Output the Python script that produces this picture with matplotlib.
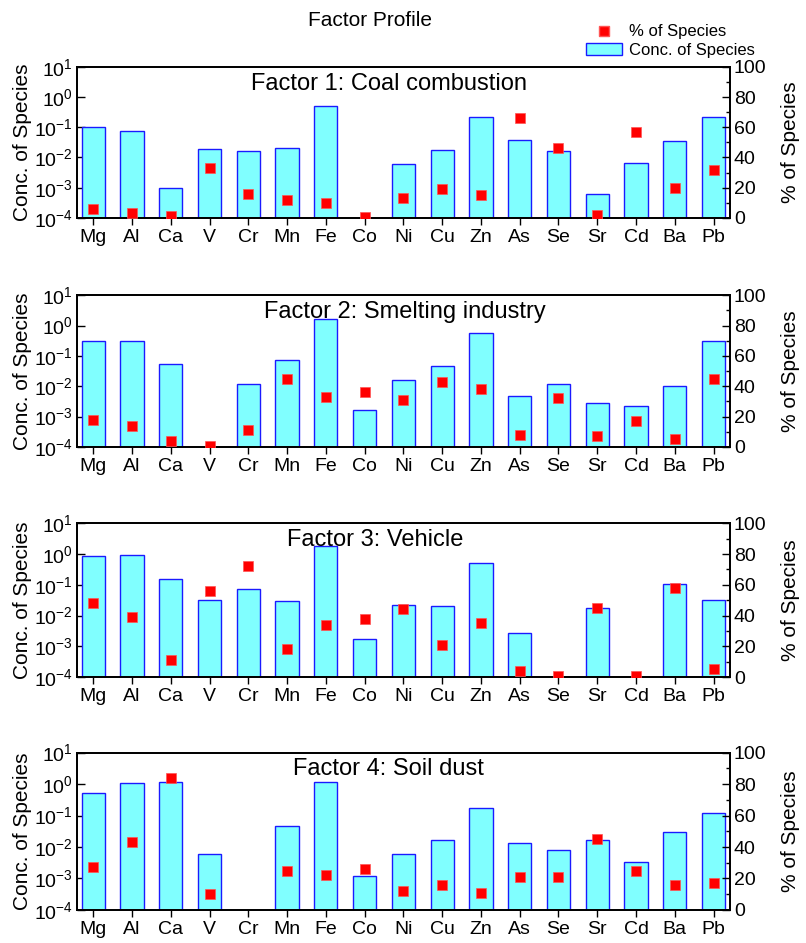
import numpy as np
import matplotlib
matplotlib.use('Agg')
from matplotlib import pyplot as plt
from matplotlib.lines import Line2D
from matplotlib.patches import Patch
from matplotlib.ticker import FixedLocator, NullLocator, MultipleLocator

plt.rcParams['font.family'] = ['Liberation Sans', 'DejaVu Sans']

species = ['Mg', 'Al', 'Ca', 'V', 'Cr', 'Mn', 'Fe', 'Co', 'Ni', 'Cu',
           'Zn', 'As', 'Se', 'Sr', 'Cd', 'Ba', 'Pb']

factor_names = ['Factor 1: Coal combustion', 'Factor 2: Smelting industry',
                'Factor 3: Vehicle', 'Factor 4: Soil dust']

# concentration of species (left, log axis); nan = no bar
conc_f1 = [0.10, 0.075, 0.001, 0.019, 0.016, 0.020, 0.50, np.nan, 0.0062, 0.018,
           0.22, 0.038, 0.017, 0.0006, 0.0068, 0.036, 0.22]
conc_f2 = [0.32, 0.32, 0.055, np.nan, 0.012, 0.075, 1.7, 0.0016, 0.016, 0.045,
           0.55, 0.0048, 0.012, 0.0027, 0.0022, 0.010, 0.32]
conc_f3 = [0.85, 0.95, 0.15, 0.033, 0.075, 0.030, 1.8, 0.0017, 0.022, 0.021,
           0.50, 0.0028, np.nan, 0.017, np.nan, 0.11, 0.032]
conc_f4 = [0.50, 1.05, 1.15, 0.006, np.nan, 0.045, 1.15, 0.0012, 0.006, 0.017,
           0.17, 0.013, 0.0083, 0.017, 0.0033, 0.031, 0.12]

# % of species (right axis)
pct_f1 = [6, 3, 1, 33, 16, 12, 10, 0.5, 13, 19, 15, 66, 46, 2, 57, 20, 32]
pct_f2 = [18, 14, 4, 0.5, 11, 45, 33, 36, 31, 43, 38, 8, 32, 7, 17, 5, 45]
pct_f3 = [48, 39, 11, 56, 72, 18, 34, 38, 44, 21, 35, 4, 0.5, 45, 0.5, 58, 5]
pct_f4 = [27, 43, 84, 10, np.nan, 25, 22, 26, 12, 16, 11, 21, 21, 45, 25, 16, 17]

conc_all = [conc_f1, conc_f2, conc_f3, conc_f4]
pct_all = [pct_f1, pct_f2, pct_f3, pct_f4]

fig = plt.figure(figsize=(8.06, 9.43), dpi=100)

# [bottom, height] for each panel (figure fraction)
panel_rows = [(0.769, 0.160), (0.526, 0.161), (0.282, 0.163), (0.035, 0.167)]
title_x = [0.483, 0.502, 0.466, 0.482]

x = np.arange(len(species))
bar_face = '#80ffff'
bar_edge = '#1a1aff'

for i in range(4):
    bottom, height = panel_rows[i]
    ax = fig.add_axes([0.0955, bottom, 0.81, height])
    ax.bar(x, conc_all[i], width=0.6, bottom=1e-5, color=bar_face,
           edgecolor=bar_edge, linewidth=1.0, zorder=2)
    ax.set_yscale('log')
    ax.set_ylim(1e-4, 10)
    ax.set_xlim(-0.42, len(species) - 1 + 0.42)
    ax.yaxis.set_major_locator(FixedLocator([1e-4, 1e-3, 1e-2, 1e-1, 1, 10]))
    ax.yaxis.set_minor_locator(NullLocator())
    ax.set_xticks(x)
    ax.set_xticklabels(species, fontsize=14)
    ax.tick_params(axis='y', direction='in', length=6, width=1, labelsize=14, pad=3)
    ax.tick_params(axis='x', direction='out', length=5, width=1, pad=3)
    ax.set_ylabel('Conc. of Species', fontsize=15, labelpad=1)
    for s in ax.spines.values():
        s.set_linewidth(1.3)

    ax2 = ax.twinx()
    ax2.plot(x, pct_all[i], linestyle='none', marker='s', markersize=7.5,
             markerfacecolor='#ff0000', markeredgecolor='#ff5555',
             markeredgewidth=0.5, zorder=3)
    ax2.set_ylim(0, 100)
    ax2.yaxis.set_major_locator(MultipleLocator(20))
    ax2.yaxis.set_minor_locator(MultipleLocator(10))
    ax2.tick_params(axis='y', which='major', direction='in', length=6, width=1,
                    labelsize=14, pad=3)
    ax2.tick_params(axis='y', which='minor', direction='in', length=3, width=1)
    ax2.set_ylabel('% of Species', fontsize=15, labelpad=10)
    for s in ax2.spines.values():
        s.set_linewidth(1.3)

    fig.text(title_x[i], bottom + height - 0.018, factor_names[i],
             ha='center', va='center', fontsize=17)

fig.text(0.459, 0.978, 'Factor Profile', ha='center', va='center', fontsize=15)

handles = [Line2D([], [], linestyle='none', marker='s', markersize=7.5,
                  markerfacecolor='#ff0000', markeredgecolor='#ff5555'),
           Patch(facecolor=bar_face, edgecolor=bar_edge, linewidth=1.0)]
fig.legend(handles, ['% of Species', 'Conc. of Species'], loc='upper right',
           bbox_to_anchor=(0.955, 0.99), frameon=False, fontsize=12,
           handlelength=2.2, handletextpad=0.4, labelspacing=0.2)

fig.savefig('out.png', dpi=100)
